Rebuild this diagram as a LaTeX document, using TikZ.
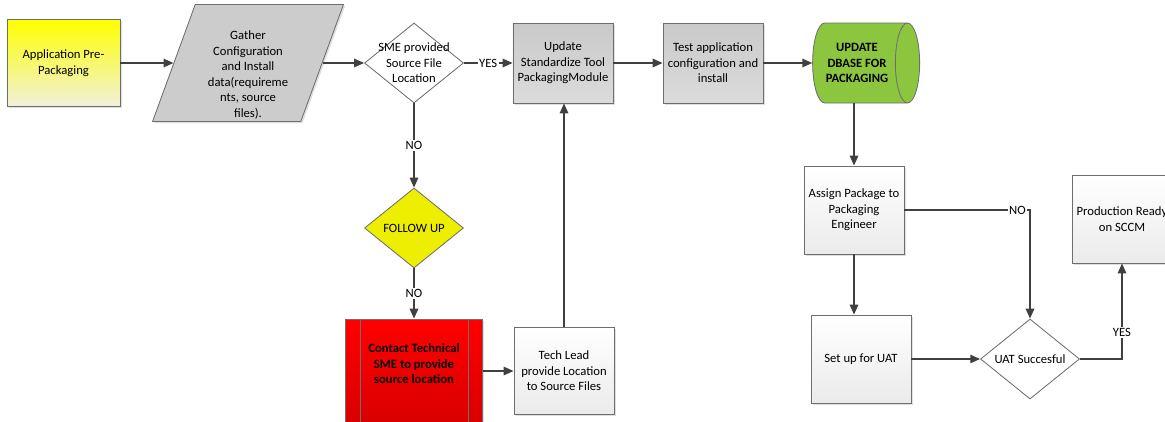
\documentclass[tikz,border=0pt]{standalone}
\usepackage[dvipsnames]{xcolor}
\usepackage{fontspec}
\setmainfont{Carlito}
\usetikzlibrary{shapes.geometric,shadows,arrows.meta}

\definecolor{linegray}{HTML}{404040}
\definecolor{edgegray}{HTML}{6E6E6E}
\definecolor{paleyellow}{HTML}{F0F0DC}
\definecolor{dbgreen}{HTML}{8CC63F}
\definecolor{fuyellow}{HTML}{EEEE00}

\begin{document}
\begin{tikzpicture}[>={Triangle[length=7pt,width=6pt]},node distance=3.75cm,
    every node/.style={font=\fontsize{9}{11}\selectfont},
    box/.style={rectangle,draw=edgegray,line width=0.6pt,align=center,minimum width=2.5cm,minimum height=2.2cm,drop shadow={shadow xshift=1.2pt,shadow yshift=-1.2pt,opacity=0.25}},
    graybox/.style={box,top color=gray!42,bottom color=gray!28},
    whitebox/.style={box,top color=white,bottom color=gray!16},
    decision/.style={diamond,draw=edgegray,line width=0.6pt,align=center,minimum width=2.475cm,minimum height=2cm,inner sep=0pt},
    line/.style={->,draw=linegray,line width=1pt},
    lbl/.style={fill=white,inner sep=1pt}]

    \useasboundingbox (0,0) rectangle (29.125,-10.525);

    % top row
    \node[box,top color=yellow,bottom color=paleyellow,minimum width=2.825cm,minimum height=2.175cm] (app) at (1.5875,-1.575) {Application Pre-\\Packaging};
    \node[trapezium,trapezium left angle=68,trapezium right angle=112,trapezium stretches=true,draw=edgegray,line width=0.6pt,fill=gray!40,minimum width=4.775cm,minimum height=2.925cm,drop shadow={shadow xshift=1.2pt,shadow yshift=-1.2pt,opacity=0.25}] (gather) [right of = app, node distance=4.6125cm] {};
    \node[align=center] (gathertext) at ([yshift=-0.3cm]gather.center) {Gather\\Configuration\\and Install\\data(requireme\\nts, source\\files).};
    \node[decision,fill=white] (sme) [right of = gather, node distance=4.15cm] {};
    \node[align=center] (smetext) at (sme) {SME provided\\Source File\\Location};
    \node[graybox,minimum height=2cm] (upd) [right of = sme, node distance=3.725cm] {Update\\Standardize Tool\\PackagingModule};
    \node[graybox,minimum height=2cm] (test) [right of = upd] {Test application\\configuration and\\install};
    \node[cylinder,cylinder uses custom fill,cylinder body fill=dbgreen,cylinder end fill=dbgreen,draw=edgegray,line width=0.6pt,aspect=0.5,minimum height=2.675cm,minimum width=2cm,align=center,font=\fontsize{9}{11}\selectfont\bfseries] (db) [right of = test, node distance=3.6cm] {UPDATE\\DBASE FOR\\PACKAGING};

    % left branch
    \node[decision,fill=fuyellow] (follow) [below of = sme, node distance=4.125cm] {FOLLOW UP};
    \node[box,top color=red,bottom color=red!85!black,minimum width=3.425cm,minimum height=2.6cm] (contact) [below of = follow, node distance=3.575cm] {};
    \node[align=center,font=\fontsize{9}{11}\selectfont\bfseries] (contacttext) at ([yshift=0.175cm]contact.center) {Contact Technical\\SME to provide\\source location};
    \draw[draw=edgegray,line width=0.6pt] ([xshift=0.375cm]contact.north west) -- ([xshift=0.375cm]contact.south west);
    \draw[draw=edgegray,line width=0.6pt] ([xshift=-0.375cm]contact.north east) -- ([xshift=-0.375cm]contact.south east);
    \node[whitebox,minimum height=2.175cm] (tech) [right of = contact] {Tech Lead\\provide Location\\to Source Files};

    % right branch
    \node[whitebox] (assign) [below of = db, node distance=3.675cm, xshift=-0.075cm] {Assign Package to\\Packaging\\Engineer};
    \node[whitebox] (setup) [below of = assign, node distance=3.725cm, xshift=0.175cm] {Set up for UAT};
    \node[decision,fill=white] (uat) [right of = setup, node distance=4.225cm] {UAT Succesful};
    \node[whitebox] (prod) [right of = assign, node distance=6.7cm, yshift=-0.225cm] {Production Ready\\on SCCM};

    \draw[line] (app) -- (gather);
    \draw[line] (gather) -- (sme);
    \draw[line] (sme) -- node[lbl]{YES} (upd);
    \draw[line] (upd) -- (test);
    \draw[line] (test) -- (db);
    \draw[line] (sme) -- node[lbl]{NO} (follow);
    \draw[line] (follow) -- node[lbl]{NO} (contact);
    \draw[line] (contact) -- (tech);
    \draw[line] (tech.north) -- (tech.north |- upd.south);
    \draw[line] (db.south -| assign) -- (assign);
    \draw[line] (assign) -- (assign |- setup.north);
    \draw[line] (setup) -- (uat);
    \draw[line] (assign.east) -| node[lbl,pos=0.45]{NO} (uat.north);
    \draw[line] (uat.east) -| node[lbl,pos=0.64]{YES} (prod.south);

\end{tikzpicture}
\end{document}
